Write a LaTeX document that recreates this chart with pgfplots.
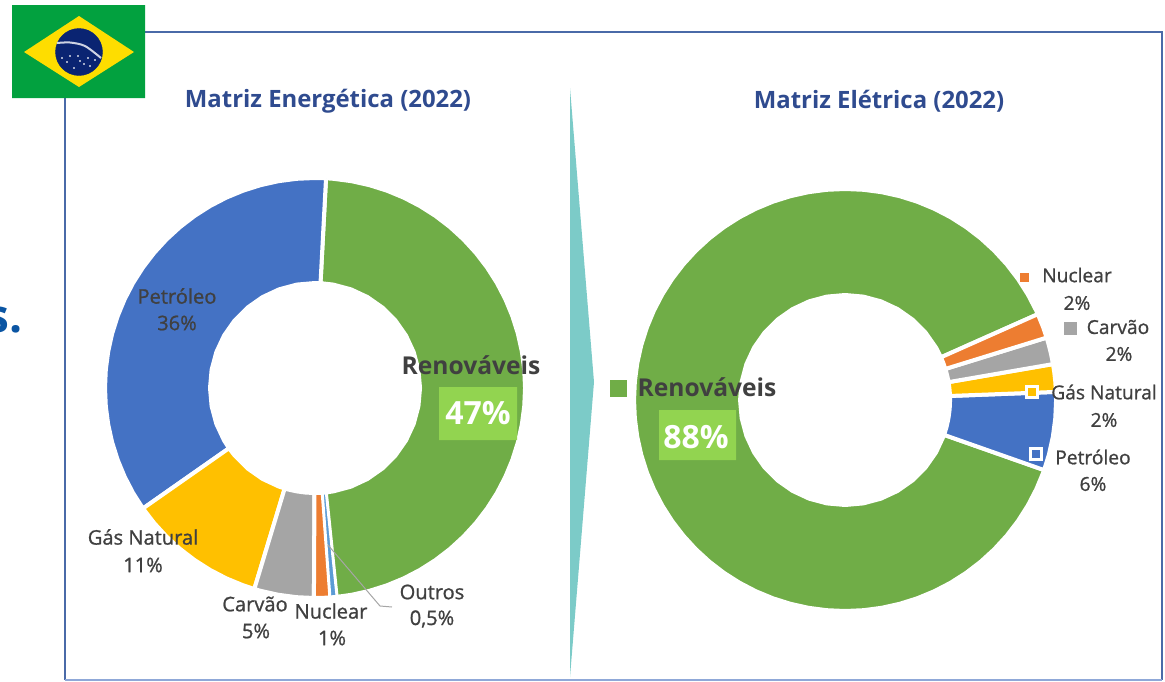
\documentclass[border=0pt]{standalone}
\usepackage{pgfplots}
\pgfplotsset{compat=1.18}
\usepackage{fontspec}
\setmainfont{Open Sans}
\newfontfamily\lab[FakeBold=1]{Open Sans}
\definecolor{cgreen}{HTML}{70AD47}
\definecolor{cblue}{HTML}{4472C4}
\definecolor{cyellow}{HTML}{FFC000}
\definecolor{cgray}{HTML}{A5A5A5}
\definecolor{corange}{HTML}{ED7D31}
\definecolor{coutros}{HTML}{5B9BD5}
\definecolor{ctext}{HTML}{404040}
\definecolor{cbox}{HTML}{92D450}
\definecolor{ctitle}{HTML}{2F4B8F}
\definecolor{cframe}{HTML}{4A6AA8}
\definecolor{cteal}{HTML}{7CCBC8}
\definecolor{cflag}{HTML}{02A13F}
\definecolor{cdia}{HTML}{FEDD00}
\definecolor{cnavy}{HTML}{0A2472}
\definecolor{cleader}{HTML}{A6A6A6}
\definecolor{cframeb}{HTML}{8FA8D8}
\definecolor{cs}{HTML}{0B55A3}
\pgfplotsset{
  canvas/.style={hide axis,scale only axis,width=1165pt,height=681pt,at={(0,0)},anchor=south west},
  sl/.style={draw=white,line width=4pt,line join=round,fill=#1},
}
\tikzset{lb/.style={inner sep=0pt,text=ctext,font=\lab\fontsize{20.1}{20.1}\selectfont},
  lr/.style={inner sep=0pt,text=ctext,font=\lab\fontsize{19.2}{19.2}\selectfont},
  rn/.style={inner sep=0pt,text=ctext,font=\bfseries\fontsize{24.6}{24.6}\selectfont},
  pc/.style={inner sep=0pt,text=white,font=\bfseries\fontsize{32}{32}\selectfont},
  tt/.style={inner sep=0pt,text=ctitle,font=\bfseries\fontsize{23.9}{23.9}\selectfont}}
\begin{document}
\begin{tikzpicture}
\path[use as bounding box,clip] (0,0) rectangle (1165pt,681pt);
% background layer: frame, divider, flag
\begin{axis}[canvas,clip mode=individual,xmin=0,xmax=1165,ymin=0,ymax=681,y dir=reverse]
\addplot[cframe,line width=2pt] coordinates {(65,680)(65,32)(1162,32)(1162,680)};
\addplot[cframeb,line width=2pt] coordinates {(65,680)(1162,680)};
\addplot[fill=cteal,draw=none] coordinates {(570,88)(594,382)(570,677)(570,88)};
\addplot[fill=cflag,draw=none] coordinates {(12,5)(145,5)(145,98)(12,98)(12,5)};
\addplot[fill=cdia,draw=none] coordinates {(24,52)(79,16)(134,52)(79,87)(24,52)};
\addplot[only marks,mark=*,mark size=23.5pt,mark options={fill=cnavy,draw=cnavy}] coordinates {(79,52)};
\addplot[color=white!80!cnavy,line width=2pt,smooth] coordinates {(57,43)(70,42.5)(85,46)(101,58)};
\addplot[only marks,mark=*,mark size=0.7pt,mark options={fill=white,draw=white}] coordinates {(62,58)(67,62)(70,56)(78,56)(80,61)(84,64)(90,66)(95,60)(74,68)(88,58)};
\node[anchor=base east,font=\bfseries\fontsize{46}{46}\selectfont,text=cs,inner sep=0pt] at (axis cs:23,332) {s.};
\end{axis}
% left doughnut: centre at (315,388) in picture pixels
\begin{axis}[canvas,xmin=-315,xmax=850,ymin=-293,ymax=388]
\addplot[sl=cgreen,data cs=polar] coordinates {(87,210)(85,210)(80,210)(75,210)(70,210)(65,210)(60,210)(55,210)(50,210)(45,210)(40,210)(35,210)(30,210)(25,210)(20,210)(15,210)(10,210)(5,210)(0,210)(-5,210)(-10,210)(-15,210)(-20,210)(-25,210)(-30,210)(-35,210)(-40,210)(-45,210)(-50,210)(-55,210)(-60,210)(-65,210)(-70,210)(-75,210)(-80,210)(-84.1,210)(-84.1,105)(-80,105)(-70,105)(-60,105)(-50,105)(-40,105)(-30,105)(-20,105)(-10,105)(0,105)(10,105)(20,105)(30,105)(40,105)(50,105)(60,105)(70,105)(80,105)(87,105)(87,210)};
\addplot[sl=cblue,data cs=polar] coordinates {(87,210)(90,210)(95,210)(100,210)(105,210)(110,210)(115,210)(120,210)(125,210)(130,210)(135,210)(140,210)(145,210)(150,210)(155,210)(160,210)(165,210)(170,210)(175,210)(180,210)(185,210)(190,210)(195,210)(200,210)(205,210)(210,210)(215,210)(215,105)(210,105)(200,105)(190,105)(180,105)(170,105)(160,105)(150,105)(140,105)(130,105)(120,105)(110,105)(100,105)(90,105)(87,105)(87,210)};
\addplot[sl=cyellow,data cs=polar] coordinates {(215,210)(220,210)(225,210)(230,210)(235,210)(240,210)(245,210)(250,210)(253.2,210)(253.2,105)(250,105)(240,105)(230,105)(220,105)(215,105)(215,210)};
\addplot[sl=cgray,data cs=polar] coordinates {(253.2,210)(255,210)(260,210)(265,210)(269.7,210)(269.7,105)(265,105)(260,105)(255,105)(253.2,105)(253.2,210)};
\addplot[sl=corange,data cs=polar] coordinates {(269.7,210)(272,210)(274.2,210)(274.2,105)(272,105)(269.7,105)(269.7,210)};
\addplot[fill=coutros,draw=white,line width=2pt,line join=round,data cs=polar] coordinates {(274.2,209)(275.9,209)(275.9,106)(274.2,106)(274.2,209)};
\end{axis}
% right doughnut: centre at (845,400) in picture pixels
\begin{axis}[canvas,xmin=-845,xmax=320,ymin=-281,ymax=400]
\addplot[sl=cgreen,data cs=polar] coordinates {(24,211)(25,211)(30,211)(35,211)(40,211)(45,211)(50,211)(55,211)(60,211)(65,211)(70,211)(75,211)(80,211)(85,211)(90,211)(95,211)(100,211)(105,211)(110,211)(115,211)(120,211)(125,211)(130,211)(135,211)(140,211)(145,211)(150,211)(155,211)(160,211)(165,211)(170,211)(175,211)(180,211)(185,211)(190,211)(195,211)(200,211)(205,211)(210,211)(215,211)(220,211)(225,211)(230,211)(235,211)(240,211)(245,211)(250,211)(255,211)(260,211)(265,211)(270,211)(275,211)(280,211)(285,211)(290,211)(295,211)(300,211)(305,211)(310,211)(315,211)(320,211)(325,211)(330,211)(335,211)(340,211)(340.6,211)(340.6,105)(340,105)(330,105)(320,105)(310,105)(300,105)(290,105)(280,105)(270,105)(260,105)(250,105)(240,105)(230,105)(220,105)(210,105)(200,105)(190,105)(180,105)(170,105)(160,105)(150,105)(140,105)(130,105)(120,105)(110,105)(100,105)(90,105)(80,105)(70,105)(60,105)(50,105)(40,105)(30,105)(24,105)(24,211)};
\addplot[sl=cblue,data cs=polar] coordinates {(2.2,211)(0,211)(-5,211)(-10,211)(-15,211)(-19.4,211)(-19.4,105)(-15,105)(-10,105)(-5,105)(0,105)(2.2,105)(2.2,211)};
\addplot[sl=cyellow,data cs=polar] coordinates {(9.8,211)(7.5,211)(5,211)(2.2,211)(2.2,105)(5,105)(7.5,105)(9.8,105)(9.8,211)};
\addplot[sl=cgray,data cs=polar] coordinates {(17.2,211)(15,211)(12.5,211)(9.8,211)(9.8,105)(12.5,105)(15,105)(17.2,105)(17.2,211)};
\addplot[sl=corange,data cs=polar] coordinates {(24,211)(20,211)(17.2,211)(17.2,105)(20,105)(24,105)(24,211)};
\end{axis}
% labels
\begin{axis}[canvas,clip mode=individual,xmin=0,xmax=1165,ymin=0,ymax=681,y dir=reverse]
\addplot[cleader,line width=1pt] coordinates {(328,545)(380,606)(392,607)};
\addplot[fill=cbox,draw=none] coordinates {(439,387)(517,387)(517,440)(439,440)(439,387)};
\addplot[fill=cbox,draw=none] coordinates {(659,410)(736,410)(736,460)(659,460)(659,410)};
\addplot[only marks,mark=square*,mark size=8pt,mark options={fill=cgreen,draw=cgreen,line width=0pt}] coordinates {(618,388)};
\addplot[only marks,mark=square*,mark size=4pt,mark options={fill=corange,draw=corange,line width=0pt}] coordinates {(1024,277)};
\addplot[only marks,mark=square*,mark size=6pt,mark options={fill=cgray,draw=cgray,line width=0pt}] coordinates {(1070,328)};
\addplot[only marks,mark=square*,mark size=5.5pt,mark options={fill=cyellow,draw=white,line width=2.5pt}] coordinates {(1032,392)};
\addplot[only marks,mark=square*,mark size=5.5pt,mark options={fill=cblue,draw=white,line width=2.5pt}] coordinates {(1036,454)};
\node[tt] at (axis cs:328,101) {Matriz Energética (2022)};
\node[tt] at (axis cs:879,101) {Matriz Elétrica (2022)};
\node[rn] at (axis cs:471,365) {Renováveis};
\node[pc] at (axis cs:478,413) {47\%};
\node[rn] at (axis cs:707,387) {Renováveis};
\node[pc] at (axis cs:696,437) {88\%};
\node[lb] at (axis cs:177,296) {Petróleo};
\node[lb] at (axis cs:177,323) {36\%};
\node[lb] at (axis cs:143,537) {Gás Natural};
\node[lb] at (axis cs:143,565) {11\%};
\node[lb] at (axis cs:255,604) {Carvão};
\node[lb] at (axis cs:256,631) {5\%};
\node[lb] at (axis cs:331,611) {Nuclear};
\node[lb] at (axis cs:332,638) {1\%};
\node[lb] at (axis cs:432,592) {Outros};
\node[lb] at (axis cs:432,619) {0,5\%};
\node[lr] at (axis cs:1077,275) {Nuclear};
\node[lr] at (axis cs:1077,303) {2\%};
\node[lr] at (axis cs:1118,327) {Carvão};
\node[lr] at (axis cs:1119,354) {2\%};
\node[lr] at (axis cs:1104,392) {Gás Natural};
\node[lr] at (axis cs:1104,420) {2\%};
\node[lr] at (axis cs:1093,457) {Petróleo};
\node[lr] at (axis cs:1093,484) {6\%};
\end{axis}
\end{tikzpicture}
\end{document}
